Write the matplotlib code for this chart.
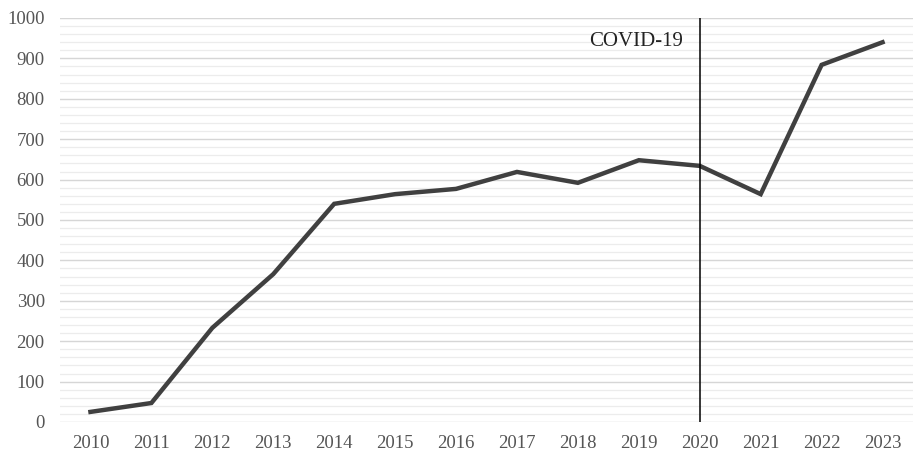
import numpy as np
import matplotlib.pyplot as plt
from matplotlib.ticker import MultipleLocator

plt.rcParams['font.family'] = ['Liberation Serif', 'DejaVu Serif']

# Data
years = ['2010', '2011', '2012', '2013', '2014', '2015', '2016',
         '2017', '2018', '2019', '2020', '2021', '2022', '2023']
counts = [25, 47, 233, 366, 540, 564, 577, 619, 592, 648, 634, 564, 884, 940]
event_year = '2020'
event_label = 'COVID-19'

fig = plt.figure(figsize=(9.13, 4.53), dpi=100)
ax = fig.add_axes([60/913, 31/453, 853/913, 404/453])

x = np.arange(len(years))
ax.plot(x, counts, color='#404040', lw=3.2, solid_joinstyle='miter', zorder=3)

ex = years.index(event_year)
ax.axvline(ex, color='black', lw=1.1, zorder=4)
ax.text(ex - 0.28, 942, event_label, ha='right', va='center',
        fontsize=15, color='#222222')

ax.set_xlim(-0.5, len(years) - 0.5)
ax.set_ylim(0, 1000)
ax.set_xticks(x)
ax.set_xticklabels(years)
ax.yaxis.set_major_locator(MultipleLocator(100))
ax.yaxis.set_minor_locator(MultipleLocator(20))

ax.grid(axis='y', which='major', color='#d6d6d6', lw=1.0, zorder=0)
ax.grid(axis='y', which='minor', color='#ececec', lw=0.9, zorder=0)
ax.set_axisbelow(True)

for s in ax.spines.values():
    s.set_visible(False)
ax.tick_params(axis='both', which='both', length=0, labelsize=13.5,
               labelcolor='#555555')
ax.tick_params(axis='x', pad=9)
ax.tick_params(axis='y', pad=11)

fig.savefig('out.png', dpi=100)
